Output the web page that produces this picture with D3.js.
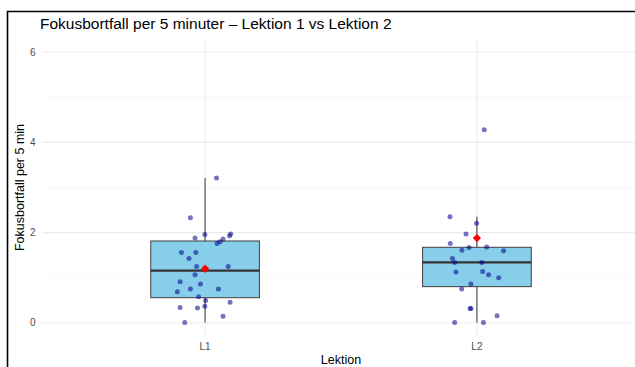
<!DOCTYPE html>
<html>
<head>
<meta charset="utf-8">
<script src="https://cdn.jsdelivr.net/npm/d3@7"></script>
<style>
  html, body { margin: 0; padding: 0; background: #fff; }
  svg { display: block; font-family: "Liberation Sans", Arial, sans-serif; }
</style>
</head>
<body>
<svg id="chart" width="635" height="367"></svg>
<script>
// Lessons on the x axis
const lessons = ["L1", "L2"];

// Focus lapses per 5 minutes, one value per observation
const valuesL1 = [3.21, 2.33, 1.96, 1.97, 1.93, 1.88, 1.86, 1.80, 1.76, 1.56, 1.56, 1.43, 1.25, 1.25,
                  1.07, 0.91, 0.86, 0.75, 0.75, 0.69, 0.58, 0.50, 0.37, 0.46, 0.34, 0.33, 0.15, 0.01];
const valuesL2 = [4.28, 2.35, 2.21, 1.97, 1.76, 1.61, 1.67, 1.68, 1.60, 1.43, 1.34, 1.34,
                  1.13, 1.14, 1.07, 1.00, 0.86, 0.75, 0.32, 0.32, 0.16, 0.01, 0.01];

// Horizontal jitter of each observation, in category units
const jitterL1 = [0.042, -0.054, -0.001, 0.094, 0.090, -0.037, 0.066, 0.055, 0.044, -0.087, -0.034, -0.059, -0.031, 0.085,
                  -0.037, -0.092, -0.017, -0.054, 0.049, -0.102, -0.024, 0.002, -0.001, 0.092, -0.092, -0.028, 0.066, -0.075];
const jitterL2 = [0.027, -0.099, -0.001, -0.040, -0.098, -0.055, -0.029, 0.036, 0.098, -0.090, -0.082, 0.018,
                  -0.077, 0.021, 0.043, 0.080, -0.022, -0.056, -0.025, -0.022, 0.074, -0.082, 0.024];

// Group means shown as red diamonds
const meanValues = [1.20, 1.88];

// Y axis ticks
const yTicks = [0, 2, 4, 6];
const yMinorTicks = [1, 3, 5];

const groups = [
  { name: lessons[0], values: valuesL1, jitter: jitterL1, mean: meanValues[0] },
  { name: lessons[1], values: valuesL2, jitter: jitterL2, mean: meanValues[1] }
];

const svg = d3.select("#chart");

// Panel geometry
const panel = { left: 42, right: 640, top: 38.5, bottom: 336.5 };

const x = d3.scaleLinear().domain([-0.6, lessons.length - 1 + 0.6]).range([panel.left, panel.right]);
const y = d3.scaleLinear().domain([-0.3, 6.3]).range([panel.bottom, panel.top]);

const boxHalf = 0.2;

// Grid
const grid = svg.append("g");
grid.selectAll("line.minor").data(yMinorTicks).join("line")
  .attr("x1", panel.left).attr("x2", panel.right)
  .attr("y1", d => y(d)).attr("y2", d => y(d))
  .attr("stroke", "#f2f2f2").attr("stroke-width", 0.6);
grid.selectAll("line.major").data(yTicks).join("line")
  .attr("x1", panel.left).attr("x2", panel.right)
  .attr("y1", d => y(d)).attr("y2", d => y(d))
  .attr("stroke", "#ebebeb").attr("stroke-width", 1.1);
grid.selectAll("line.vmajor").data(lessons).join("line")
  .attr("x1", (d, i) => x(i)).attr("x2", (d, i) => x(i))
  .attr("y1", panel.top).attr("y2", panel.bottom)
  .attr("stroke", "#ebebeb").attr("stroke-width", 1.1);

// Box statistics (R type-7 quantiles, 1.5 IQR whiskers)
groups.forEach((g, i) => {
  const s = g.values.slice().sort(d3.ascending);
  const q1 = d3.quantile(s, 0.25), med = d3.quantile(s, 0.5), q3 = d3.quantile(s, 0.75);
  const iqr = q3 - q1;
  const lo = d3.min(s.filter(v => v >= q1 - 1.5 * iqr));
  const hi = d3.max(s.filter(v => v <= q3 + 1.5 * iqr));
  g.stats = { q1, med, q3, lo, hi, i };
});

const boxes = svg.append("g");
groups.forEach(g => {
  const st = g.stats;
  const b = boxes.append("g");
  b.append("line")
    .attr("x1", x(st.i)).attr("x2", x(st.i))
    .attr("y1", y(st.q3)).attr("y2", y(st.hi))
    .attr("stroke", "#333").attr("stroke-width", 1);
  b.append("line")
    .attr("x1", x(st.i)).attr("x2", x(st.i))
    .attr("y1", y(st.q1)).attr("y2", y(st.lo))
    .attr("stroke", "#333").attr("stroke-width", 1);
  b.append("rect")
    .attr("x", x(st.i - boxHalf)).attr("width", x(st.i + boxHalf) - x(st.i - boxHalf))
    .attr("y", y(st.q3)).attr("height", y(st.q1) - y(st.q3))
    .attr("fill", "#87CEEB").attr("stroke", "#4d4d4d").attr("stroke-width", 1.1);
  b.append("line")
    .attr("x1", x(st.i - boxHalf)).attr("x2", x(st.i + boxHalf))
    .attr("y1", y(st.med)).attr("y2", y(st.med))
    .attr("stroke", "#333").attr("stroke-width", 2.2);
});

// Jittered observations
const pts = svg.append("g");
groups.forEach(g => {
  pts.selectAll(null).data(g.values.map((v, k) => ({ v, j: g.jitter[k] }))).join("circle")
    .attr("cx", d => x(g.stats.i + d.j))
    .attr("cy", d => y(d.v))
    .attr("r", 2.5)
    .attr("fill", "#00008B")
    .attr("fill-opacity", 0.55);
});

// Means
const diamond = d3.symbol().type(d3.symbolDiamond2).size(44);
svg.append("g").selectAll("path").data(groups).join("path")
  .attr("transform", (g) => `translate(${x(g.stats.i)},${y(g.mean)})`)
  .attr("d", diamond)
  .attr("fill", "#ff0000");

// Y axis labels
svg.append("g").selectAll("text").data(yTicks).join("text")
  .attr("x", 35.5).attr("y", d => y(d)).attr("dy", "0.35em")
  .attr("text-anchor", "end")
  .attr("font-size", 10).attr("fill", "#4d4d4d")
  .text(d => d);

// X axis labels
svg.append("g").selectAll("text").data(lessons).join("text")
  .attr("x", (d, i) => x(i)).attr("y", 350)
  .attr("text-anchor", "middle")
  .attr("font-size", 10).attr("fill", "#4d4d4d")
  .text(d => d);

// Axis titles
svg.append("text")
  .attr("x", (panel.left + panel.right) / 2).attr("y", 364)
  .attr("text-anchor", "middle").attr("font-size", 12.5).attr("fill", "#000")
  .text("Lektion");
svg.append("text")
  .attr("transform", `translate(24,${(panel.top + panel.bottom) / 2}) rotate(-90)`)
  .attr("text-anchor", "middle").attr("font-size", 12.5).attr("fill", "#000")
  .text("Fokusbortfall per 5 min");

// Title
svg.append("text")
  .attr("x", 40).attr("y", 29)
  .attr("font-size", 15.5).attr("fill", "#000")
  .text("Fokusbortfall per 5 minuter – Lektion 1 vs Lektion 2");

// Frame
svg.append("path")
  .attr("d", "M7.5,367 V11.5 H635")
  .attr("fill", "none").attr("stroke", "#000").attr("stroke-width", 1.6);
</script>
</body>
</html>
